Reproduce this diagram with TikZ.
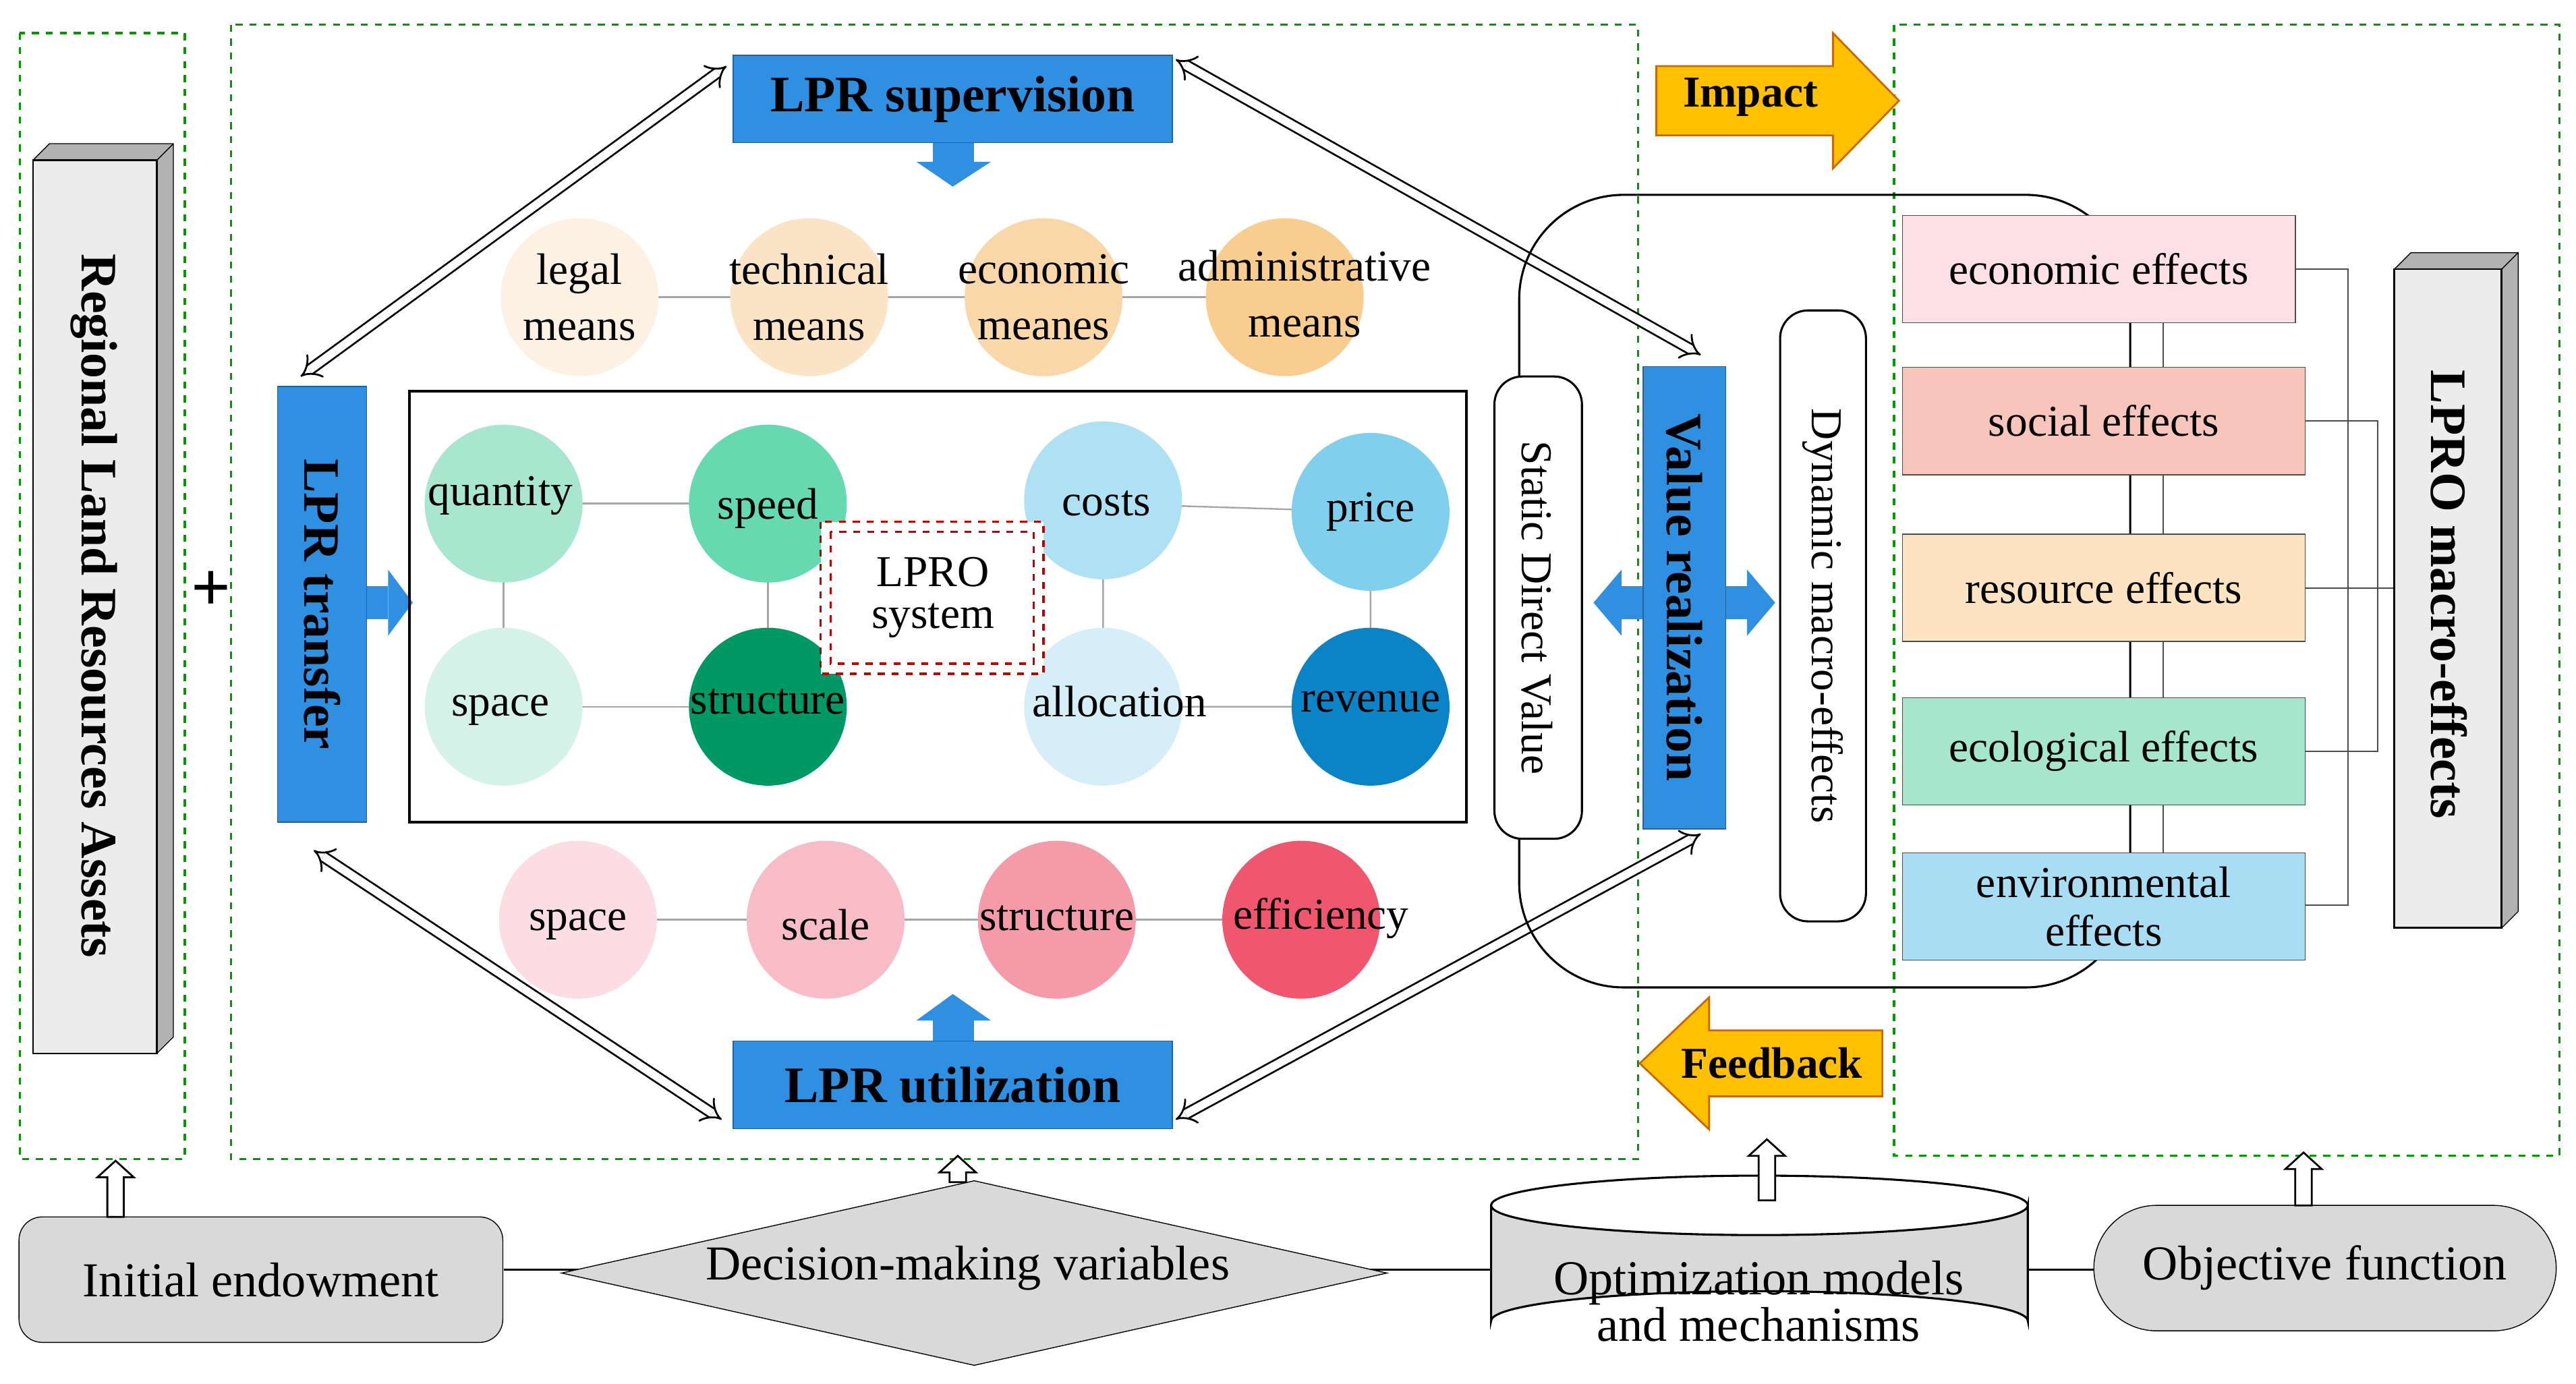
\documentclass[tikz,border=0pt]{standalone}
\usepackage{fontspec}
\setmainfont{Liberation Serif}
\setsansfont{Liberation Serif}
\usetikzlibrary{arrows.meta,shapes.geometric}
\definecolor{blu}{HTML}{2F8FE0}
\definecolor{gr}{HTML}{D9D9D9}
\definecolor{org}{HTML}{FFC000}
\begin{document}
\begin{tikzpicture}[x=0.025cm,y=-0.025cm,
 gdash/.style={draw=green!60!black,dashed,line width=1pt},
 bl/.style={fill=blu,draw=blu!70!black},
 t/.style={font=\rmfamily\fontsize{19}{20}\selectfont,align=center,inner sep=0},
 tb/.style={font=\rmfamily\bfseries\fontsize{22}{23}\selectfont,align=center,inner sep=0},
 c/.style={circle,minimum size=68pt,inner sep=0},
 ln/.style={draw=gray!70,line width=0.7pt},
 dbl/.style={double,double distance=3.5pt,line width=0.8pt,{Implies}-{Implies}},
 eff/.style={draw=black!70,line width=0.6pt},
 hol/.style={draw,fill=white,line width=0.8pt}]
\useasboundingbox (0,0) rectangle (1560,838);
% dashed groups
\draw[gdash] (12,20) rectangle (112,702);
\draw[gdash] (140,15) rectangle (992,702);
\draw[gdash] (1147,15) rectangle (1550,700);
% Regional box
\fill[gray!60] (20,97)--(30,87)--(105,87)--(105,628)--(95,638)--cycle;
\draw[line width=0.8pt,fill=gray!15] (20,97) rectangle (95,638);
\draw (95,97)--(105,87) (95,638)--(105,628) (20,97)--(30,87)--(105,87)--(105,628);
\node[tb,rotate=-90] (rla) at (57,367) {Regional Land Resources Assets};
\node[font=\fontsize{30}{30}\selectfont\bfseries] (plus) at (128,358) {+};
% big double arrows
\coordinate (a1) at (440,40); \coordinate (a2) at (182,228);
\coordinate (b1) at (712,36); \coordinate (b2) at (1030,215);
\coordinate (c1) at (190,515); \coordinate (c2) at (437,678);
\coordinate (d1) at (712,678); \coordinate (d2) at (1030,505);
\draw[dbl] (a1)--(a2); \draw[dbl] (b1)--(b2); \draw[dbl] (c1)--(c2); \draw[dbl] (d1)--(d2);
% big rounded
\draw[line width=0.9pt,rounded corners=45] (920,118) rectangle (1290,598);
% blue blocks
\fill[blu] (565,86) rectangle (590,98); \fill[blu] (555,98)--(600,98)--(577,113)--cycle;
\node[bl,minimum width=266*0.025cm,minimum height=53*0.025cm,tb] (sup) at (577,60) {LPR supervision};
\fill[blu] (222,355) rectangle (235,375); \fill[blu] (235,345)--(250,365)--(235,385)--cycle;
\node[bl,minimum width=54*0.025cm,minimum height=264*0.025cm] (tr) at (195,366) {};
\node[tb,rotate=-90] at (195,366) {LPR transfer};
\fill[blu] (565,618) rectangle (590,632); \fill[blu] (555,618)--(600,618)--(577,602)--cycle;
\node[bl,minimum width=266*0.025cm,minimum height=53*0.025cm,tb] (uti) at (577,657) {LPR utilization};
\fill[blu] (965,365)--(982,345)--(982,355)--(1058,355)--(1058,345)--(1075,365)--(1058,385)--(1058,375)--(982,375)--(982,385)--cycle;
\node[bl,minimum width=50*0.025cm,minimum height=280*0.025cm] (vr) at (1020,362) {};
\node[tb,rotate=-90] at (1020,362) {Value realization};
% static & dynamic
\draw[fill=white,line width=0.9pt,rounded corners=12] (905,228) rectangle (958,508);
\node[t,rotate=-90] (sdv) at (931,368) {Static Direct Value};
\draw[fill=white,line width=0.9pt,rounded corners=12] (1078,188) rectangle (1130,558);
\node[t,rotate=-90] (dme) at (1104,373) {Dynamic macro-effects};
% means
\draw[ln] (351,180)--(790,180);
\node[c,fill={rgb,255:red,253;green,241;blue,227}] (m1) at (351,180) {};
\node[c,fill={rgb,255:red,251;green,227;blue,197}] (m2) at (490,180) {};
\node[c,fill={rgb,255:red,250;green,215;blue,168}] (m3) at (632,180) {};
\node[c,fill={rgb,255:red,249;green,204;blue,143}] (m4) at (778,180) {};
\node[t] at (351,180) {legal\\[4pt]means};
\node[t] at (490,180) {technical\\[4pt]means};
\node[t] at (632,180) {economic\\[4pt]meanes};
\node[t] at (790,178) {administrative\\[4pt]means};
% inner rect
\draw[line width=1.2pt] (248,237) rectangle (888,498);
\draw[ln] (305,305)--(465,305) (305,428)--(465,428) (305,305)--(305,428) (465,305)--(465,428);
\draw[ln] (668,305)--(830,310) (668,428)--(830,428) (668,303)--(668,428) (830,310)--(830,428);
\node[c,fill={rgb,255:red,168;green,230;blue,207}] (q) at (305,305) {};
\node[c,fill={rgb,255:red,102;green,217;blue,176}] (sp) at (465,305) {};
\node[c,fill={rgb,255:red,212;green,242;blue,231}] (s1) at (305,428) {};
\node[c,fill={rgb,255:red,0;green,153;blue,102}] (st) at (465,428) {};
\node[c,fill={rgb,255:red,174;green,225;blue,243}] (co) at (668,303) {};
\node[c,fill={rgb,255:red,127;green,207;blue,237}] (pr) at (830,310) {};
\node[c,fill={rgb,255:red,214;green,238;blue,248}] (al) at (668,428) {};
\node[c,fill={rgb,255:red,10;green,132;blue,198}] (re) at (830,428) {};
\node[t] at (303,300) {quantity}; \node[t] at (465,308) {speed};
\node[t] at (303,430) {space}; \node[t] at (465,425) {structure};
\node[t] at (670,305) {costs}; \node[t] at (830,310) {price};
\node[t] at (678,425) {allocation}; \node[t] at (830,425) {revenue};
\draw[red!75!black,dashed,line width=1pt,fill=white] (497,316) rectangle (632,408);
\draw[red!75!black,dashed,line width=1pt] (503,322) rectangle (626,402);
\node[t] (lpro) at (565,362) {LPRO\\[-2pt]system};
% bottom circles
\draw[ln] (350,557)--(800,557);
\node[c,fill={rgb,255:red,252;green,221;blue,227}] (k1) at (350,557) {};
\node[c,fill={rgb,255:red,248;green,188;blue,198}] (k2) at (500,557) {};
\node[c,fill={rgb,255:red,245;green,154;blue,168}] (k3) at (640,557) {};
\node[c,fill={rgb,255:red,240;green,86;blue,110}] (k4) at (788,557) {};
\node[t] at (350,560) {space}; \node[t] at (500,560) {scale};
\node[t] at (640,556) {structure}; \node[t] at (800,556) {efficiency};
% impact / feedback
\draw[fill=org,draw=orange!80!black,line width=0.8pt] (1003,40)--(1110,40)--(1110,20)--(1150,61)--(1110,102)--(1110,82)--(1003,82)--cycle;
\node[tb,font=\rmfamily\bfseries\fontsize{19}{20}\selectfont] (imp) at (1060,59) {Impact};
\draw[fill=org,draw=orange!80!black,line width=0.8pt] (1140,624)--(1035,624)--(1035,604)--(993,644)--(1035,684)--(1035,664)--(1140,664)--cycle;
\node[tb,font=\rmfamily\bfseries\fontsize{19}{20}\selectfont] (fb) at (1073,644) {Feedback};
% effects
\draw[eff] (1310,163)--(1310,550);
\draw[eff] (1390,163)--(1422,163)--(1422,548)--(1396,548);
\draw[eff] (1396,255)--(1440,255)--(1440,455)--(1396,455);
\draw[eff] (1396,356)--(1450,356);
\node[draw=black!70,fill={rgb,255:red,253;green,224;blue,229},minimum width=238*0.025cm,minimum height=65*0.025cm,t] (e1) at (1271,163) {economic effects};
\node[draw=black!70,fill={rgb,255:red,248;green,197;blue,189},minimum width=244*0.025cm,minimum height=65*0.025cm,t] (e2) at (1274,255) {social effects};
\node[draw=black!70,fill={rgb,255:red,252;green,227;blue,194},minimum width=244*0.025cm,minimum height=65*0.025cm,t] (e3) at (1274,356) {resource effects};
\node[draw=black!70,fill={rgb,255:red,165;green,230;blue,204},minimum width=244*0.025cm,minimum height=65*0.025cm,t] (e4) at (1274,455) {ecological effects};
\node[draw=black!70,fill={rgb,255:red,169;green,221;blue,243},minimum width=244*0.025cm,minimum height=65*0.025cm,t] (e5) at (1274,549) {environmental\\[1pt]effects};
% LPRO macro box
\fill[gray!60] (1450,163)--(1460,153)--(1525,153)--(1525,552)--(1515,562)--cycle;
\draw[line width=0.8pt,fill=gray!15] (1450,163) rectangle (1515,562);
\draw (1515,163)--(1525,153) (1515,562)--(1525,552) (1450,163)--(1460,153)--(1525,153)--(1525,552);
\node[tb,rotate=-90] (lme) at (1483,360) {LPRO macro-effects};
% bottom row
\draw[line width=0.9pt] (305,769)--(1268,769);
\node[draw,fill=gr,rounded corners=10,minimum width=293*0.025cm,minimum height=76*0.025cm,t,font=\rmfamily\fontsize{21}{22}\selectfont] (ie) at (158,775) {Initial endowment};
\node[draw,fill=gr,diamond,aspect=4.5,minimum width=500*0.025cm,minimum height=112*0.025cm,inner sep=0] (dv) at (590,771) {};
\node[t,font=\rmfamily\fontsize{21}{22}\selectfont] at (586,768) {Decision-making variables};
% cylinder drawn directly
\draw[fill=gr,line width=0.9pt] (903,730) -- (903,800) arc[start angle=180,end angle=360,x radius=162.5,y radius=18] -- (1228,730) arc[start angle=0,end angle=180,x radius=162.5,y radius=18] -- cycle;
\draw[line width=0.9pt] (903,730) arc[start angle=180,end angle=360,x radius=162.5,y radius=18];
\node[t,font=\rmfamily\fontsize{21}{17}\selectfont] (om) at (1065,788) {Optimization models\\and mechanisms};
\node[draw,fill=gr,rounded corners=38*0.025cm,minimum width=280*0.025cm,minimum height=76*0.025cm,t,font=\rmfamily\fontsize{21}{22}\selectfont] (of) at (1408,768) {Objective function};
% hollow up arrows
\foreach \x/\yb/\yt in {70/737/703, 580/716/700, 1070/727/690, 1395/730/698}{
 \draw[hol] (\x-5,\yb)--(\x-5,\yt+10)--(\x-11,\yt+10)--(\x,\yt)--(\x+11,\yt+10)--(\x+5,\yt+10)--(\x+5,\yb)--cycle;}
\end{tikzpicture}
\end{document}
